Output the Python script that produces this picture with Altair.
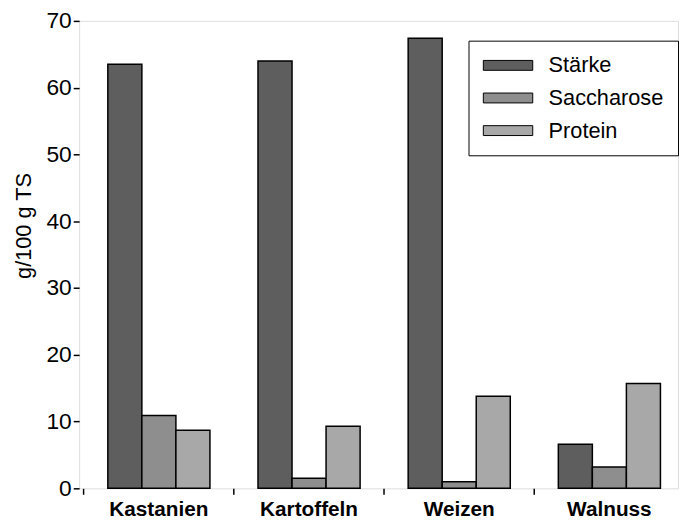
import altair as alt
import pandas as pd

categories = ["Kastanien", "Kartoffeln", "Weizen", "Walnuss"]
series = ["Stärke", "Saccharose", "Protein"]
staerke = [63.5, 64.0, 67.4, 6.6]
saccharose = [10.9, 1.5, 1.0, 3.2]
protein = [8.7, 9.3, 13.8, 15.7]

rows = []
for i, c in enumerate(categories):
    for s, vals in zip(series, [staerke, saccharose, protein]):
        rows.append({"Produkt": c, "Komponente": s, "Wert": vals[i]})
df = pd.DataFrame(rows)

FONT = "Liberation Sans"

bars = alt.Chart(df).mark_bar(stroke="black", strokeWidth=1.5).encode(
    x=alt.X("Produkt:N", sort=categories, title=None,
            scale=alt.Scale(paddingInner=0.32, paddingOuter=0.154, align=0.62),
            axis=alt.Axis(labelAngle=0, labelFont=FONT, labelFontSize=21,
                          labelFontWeight="bold", labelColor="black",
                          labelPadding=5, ticks=True, tickSize=6,
                          tickColor="black", tickWidth=1.5, bandPosition=-0.235,
                          domain=False)),
    xOffset=alt.XOffset("Komponente:N", sort=series,
                        scale=alt.Scale(paddingInner=0, paddingOuter=0)),
    y=alt.Y("Wert:Q", title="g/100 g TS",
            scale=alt.Scale(domain=[0, 70], nice=False),
            axis=alt.Axis(values=list(range(0, 71, 10)), grid=False,
                          labelFont=FONT, labelFontSize=23, labelColor="black",
                          tickColor="black", tickSize=6, tickWidth=1.5,
                          labelPadding=2, domain=False,
                          titleFont=FONT, titleFontSize=22, titleFontWeight="normal",
                          titleColor="black", titlePadding=11, titleY=207)),
    color=alt.Color("Komponente:N", sort=series, title=None,
                    scale=alt.Scale(domain=series,
                                    range=["#5e5e5e", "#8e8e8e", "#a8a8a8"]),
                    legend=alt.Legend(orient="none", legendX=394, legendY=20,
                                      labelFont=FONT, labelFontSize=22,
                                      labelColor="black",
                                      symbolType="M-2.5,-0.5L2.5,-0.5L2.5,0.5L-2.5,0.5Z",
                                      symbolSize=400, symbolStrokeColor="black",
                                      symbolStrokeWidth=1, symbolOffset=15,
                                      strokeColor="black",
                                      padding=14, rowPadding=11, labelOffset=30)),
)

chart = bars.properties(
    width=606, height=473,
    padding={"left": 72, "top": 10, "right": 1, "bottom": 30},
    autosize="none",
).configure_view(stroke="black", strokeWidth=2).configure_legend(
    strokeWidth=1.5
).configure(background="white")

chart.save("out.html", embed_options={"renderer": "svg", "actions": False})
